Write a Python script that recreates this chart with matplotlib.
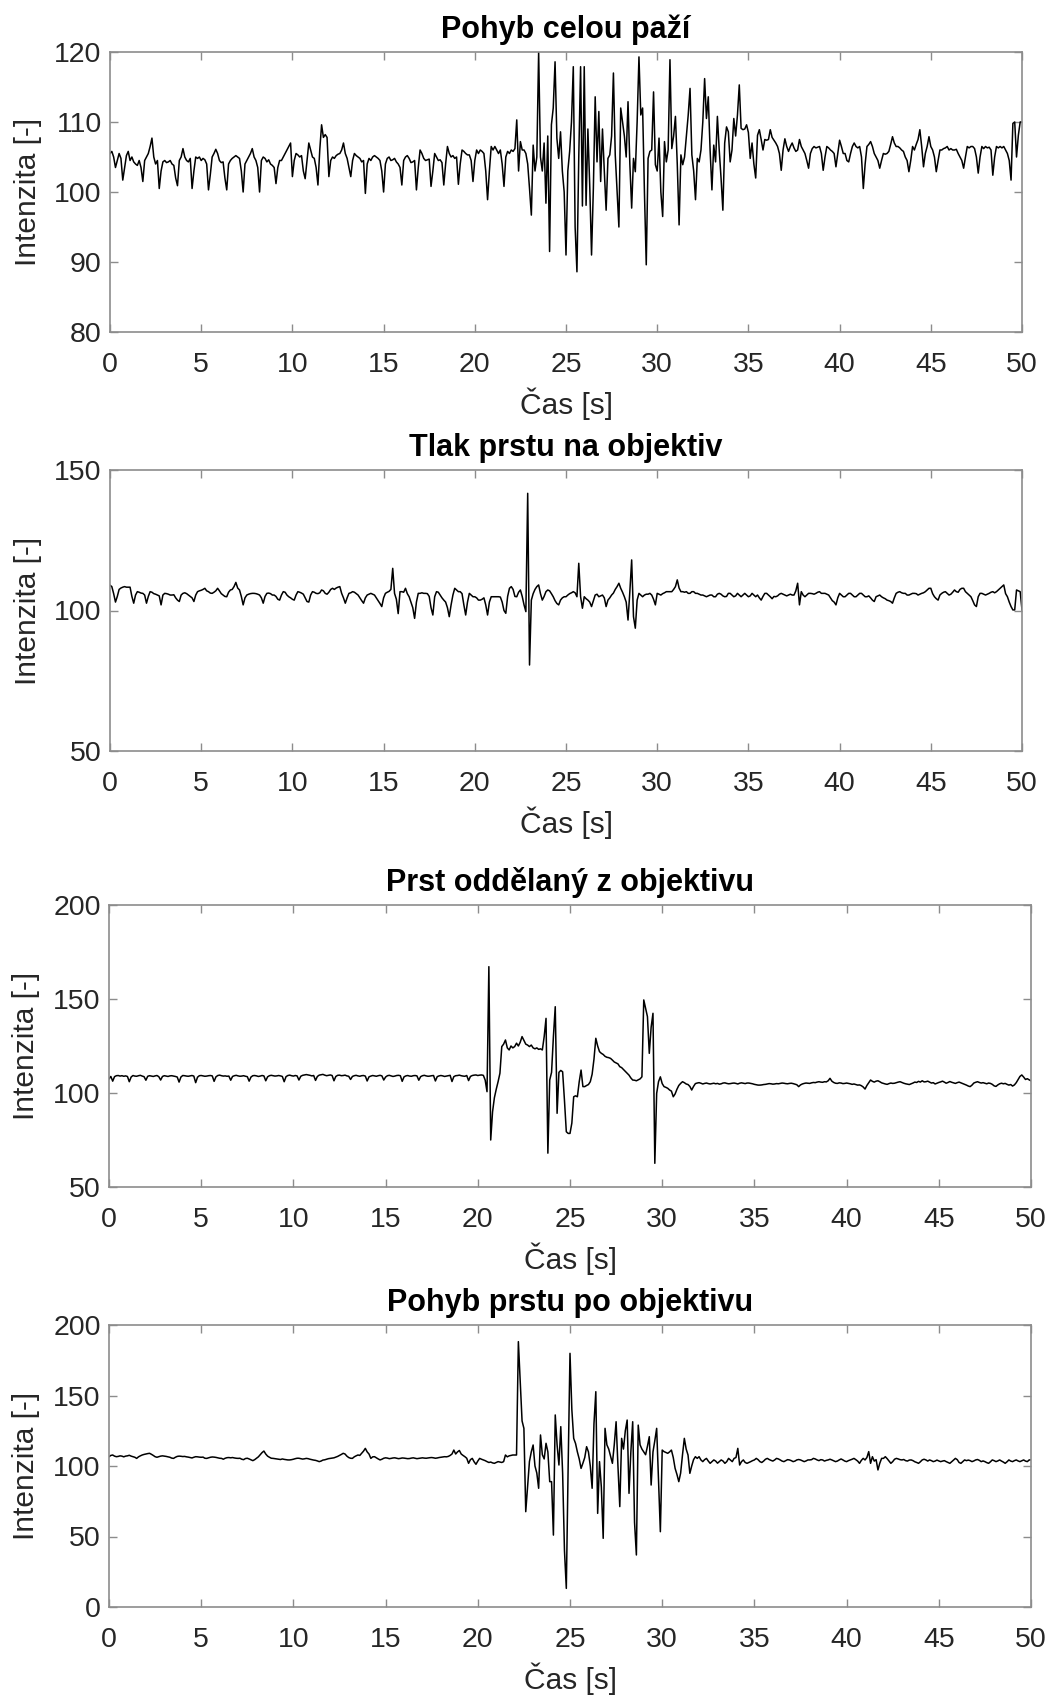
import numpy as np
import matplotlib
matplotlib.use('Agg')
import matplotlib.pyplot as plt

plt.rcParams['font.family'] = ['Liberation Sans', 'DejaVu Sans']

# ---- data: intensity sampled every 0.1 s, one row per second ----
dt = 0.1

paze = [
    105.5, 105.8, 105, 103.5, 104.5, 105.5, 104.8, 101.7, 103.5, 105.2,
    105.8, 104.5, 105, 104.3, 104, 103.8, 104.5, 103.5, 101.5, 104.5,
    105, 105.5, 106.5, 107.7, 105, 104, 104.5, 100.5, 103, 104.3,
    104.5, 104.2, 104.3, 104.5, 104, 103.8, 102, 100.9, 104.5, 105,
    106.2, 105, 104.5, 104.3, 104.8, 100.5, 103, 105, 104.8, 105,
    104.5, 104.8, 104.6, 104, 100.3, 102.5, 105, 105.5, 106.1, 105.5,
    104.5, 104.2, 104.3, 102, 100.3, 104, 104.5, 104.8, 105, 105.2,
    105, 104.8, 103, 100, 104, 104.5, 105, 105.5, 106.2, 105,
    104.5, 103.5, 100, 104.5, 105, 104.8, 104.3, 104.6, 104, 103.8,
    103.5, 101.2, 103.5, 104.5, 104.5, 105, 105.5, 106, 106.5, 107,
    102.2, 104.5, 105.5, 105.3, 105, 105.2, 103, 101.9, 104.5, 107,
    106, 105, 104.8, 103.5, 101, 106, 109.6, 107.8, 108.2, 107.8,
    102.2, 104.5, 105, 104.8, 105.2, 105.4, 105.5, 106, 107, 105.5,
    104.8, 103.5, 102.2, 104.5, 105.5, 105.2, 105, 104.8, 104.3, 104.5,
    99.8, 104, 104.8, 104.5, 105, 105.2, 105, 104.8, 104.5, 103,
    100, 104, 104.8, 105, 104.5, 104.6, 104.8, 104.3, 104, 103.5,
    101, 104.5, 105, 105.2, 104.8, 104.2, 104.3, 104.5, 100.3, 103.5,
    106, 105.5, 104.8, 104.5, 104.6, 104.7, 100.8, 103, 105.5, 105,
    104.5, 104.6, 104.2, 101, 104, 106.5, 105.5, 105, 105.2, 104.8,
    105, 101.1, 104, 106, 105.8, 105.5, 105.3, 105.3, 104.5, 101.5,
    104.5, 106, 105.5, 106, 105.8, 105.5, 103, 98.9, 103, 106.5,
    106, 106.5, 106, 105.5, 106, 104, 100.8, 105, 105.8, 105.5,
    106, 105.8, 106.2, 110.3, 103, 107.2, 106, 106, 105.5, 104,
    100.5, 96.7, 106.7, 103, 105, 120, 105, 103, 107, 98.4,
    108, 91.5, 109.6, 112, 118.6, 107.7, 104.8, 108.6, 103, 100,
    91, 103, 105.8, 110, 117.9, 95, 88.6, 105, 117.9, 98,
    117.9, 98.1, 109, 101, 91, 100.5, 113.6, 104.3, 111.5, 101.5,
    109, 103, 97.4, 104.8, 105.3, 108, 117, 105.3, 100, 95,
    112, 110, 108, 105, 112.9, 104, 97.7, 104.8, 102.9, 110,
    119.3, 111, 112, 100, 89.6, 104.8, 105.8, 106, 114.3, 103.9,
    103, 107.7, 100, 96.5, 107.2, 104.3, 106, 118.9, 106.2, 108,
    110.8, 104, 95.3, 105.3, 103.9, 105, 108, 111, 114.8, 105.3,
    103, 98.9, 104.8, 104.3, 106, 110, 116.2, 110.5, 113.6, 106,
    100.3, 106.7, 104.3, 110.8, 106, 102, 97.4, 107, 109.3, 108.6,
    104.3, 106, 110.5, 108, 111, 115.3, 109.1, 108.9, 109, 109.6,
    108.5, 104.8, 107, 104, 102, 108.1, 108.9, 107.5, 106, 107.5,
    107.4, 107.5, 108.9, 107.8, 107.4, 107, 106.5, 105.5, 103.1, 106,
    107.6, 106.5, 105.8, 106.5, 107, 106.3, 105.8, 106, 107.5, 106.5,
    106, 105.5, 104.5, 103.4, 105.5, 106.2, 106.5, 106.3, 106.4, 106.5,
    105.5, 103.1, 105, 106.5, 106.3, 106, 105.8, 105.5, 103.6, 105.5,
    107.4, 106.5, 105.5, 105.5, 104.5, 104.3, 105.5, 106.5, 107, 106.5,
    106.3, 106.5, 105, 100.5, 104, 106.5, 106.8, 107.2, 106.5, 105.5,
    105, 104.5, 103.4, 104.5, 105.5, 105.4, 105.5, 105.8, 106.8, 107.9,
    107, 106.5, 106.5, 106.3, 106, 105.8, 105, 104.5, 102.9, 104.5,
    106.5, 106, 106.8, 107.5, 108.9, 106.5, 103.6, 105.5, 106.5, 107.9,
    106.5, 106, 105, 102.9, 104.5, 106, 106, 106.2, 106.3, 106.5,
    106, 106.2, 106, 106, 106.1, 105.5, 105, 104.5, 103.4, 105,
    106.5, 106.3, 106.5, 106.5, 106.2, 105, 102.7, 105, 106.5, 106.2,
    106.5, 106.3, 106.4, 106, 102.4, 105, 106.5, 106.3, 106.5, 106.3,
    106.5, 106, 105.5, 104.5, 101.7, 109.8, 110, 105, 108.1, 110,
    110,
]

tlak = [
    109, 108.5, 106, 103, 105, 107.5, 108, 108.3, 108.5, 108.3,
    108.3, 108.3, 105, 102.6, 105.5, 106.7, 106.5, 106.2, 106.1, 105.5,
    102.6, 105, 106.7, 106.5, 106, 105.8, 105.5, 105.2, 102, 105.5,
    106.1, 106, 105.8, 105.5, 105.5, 105.6, 104.5, 103.7, 103.2, 105.5,
    106.1, 106.3, 106, 105.5, 105, 104.5, 103.2, 105.5, 106.7, 107,
    107.2, 107.5, 107.9, 107, 106.7, 106.2, 106.1, 106.5, 107, 107.9,
    107, 106, 105.5, 105, 104.9, 106.5, 107.3, 107.5, 108.5, 110,
    108, 107.3, 105, 102, 104.5, 105.5, 105.8, 106, 106.1, 106.1,
    106, 105.8, 105.5, 104.5, 102.6, 105, 106.1, 106.2, 106, 105.5,
    105.5, 105, 104, 103.7, 105.5, 106.7, 106.5, 105.5, 104.9, 104.5,
    104, 103.7, 105.5, 106.7, 106.5, 106.2, 105.8, 104.5, 103.2, 103,
    105.5, 106.7, 106.5, 106.1, 106, 106.3, 107.3, 107, 106.1, 105.8,
    106.5, 107.5, 107.9, 107.5, 108, 108.3, 108.5, 106.1, 104.5, 102.6,
    104.5, 106.1, 106.3, 106.7, 106.5, 106, 105.5, 104.5, 103.5, 102.6,
    104.5, 105.5, 105.8, 106.1, 105.8, 105.5, 104.5, 103.5, 102.5, 101.4,
    104.5, 106.1, 106.5, 106.8, 107.5, 115, 106.1, 104, 98.9, 106.7,
    106.7, 106.5, 107.9, 106, 104.9, 103, 101, 97.2, 103, 106.1,
    106.1, 106.3, 106.1, 106.1, 106, 105, 101, 98.4, 104.9, 106.7,
    106.5, 105.5, 104.5, 103.7, 103, 101, 97.8, 102, 105.5, 107.9,
    107.3, 106.7, 106.7, 106, 102, 98.4, 103, 106.1, 105.5, 104.9,
    104.9, 104.5, 103.7, 103.7, 104, 104.5, 102, 98.4, 103, 104.9,
    104.9, 104.9, 104.9, 104.9, 104.8, 103, 100, 99, 105, 107.9,
    108.5, 107.5, 105, 104.9, 106.5, 107.3, 105, 102, 99.6, 141.7,
    80.6, 103.7, 106, 107.5, 108.5, 109.1, 106, 103.7, 105, 106.7,
    107.3, 107, 106, 104.9, 103.5, 102.5, 102, 103.7, 104.5, 104.9,
    104.9, 105.5, 106, 106.3, 106.7, 106.3, 104.9, 116.8, 104.9, 100.8,
    104.9, 104.2, 103.7, 103, 101.4, 103.5, 105.5, 105.8, 104.9, 105.2,
    105.5, 104.5, 101.4, 103.7, 104.5, 105.5, 106.2, 107.5, 108.5, 109.7,
    107.9, 106.5, 104.9, 103, 96.6, 106.7, 118, 97.8, 93.7, 103.7,
    106.1, 105.5, 104.9, 105.5, 105.8, 105.8, 106.1, 105.5, 104, 102,
    106.1, 105.8, 105.5, 106, 106.3, 106.7, 106.7, 106.7, 106.7, 107.5,
    108.5, 110.9, 108, 106.7, 106.7, 106.5, 106.7, 106.1, 106.1, 106.7,
    106.7, 106.1, 106.1, 105.8, 105.5, 105.5, 105.2, 104.9, 105.2, 105.5,
    105.5, 104.9, 104.9, 105.8, 106.1, 105.8, 105.2, 104.9, 105, 106.1,
    106.1, 105.5, 104.9, 105.2, 106.1, 105.5, 104.9, 105.5, 106.1, 105.5,
    104.9, 105.2, 106.1, 105.5, 104.9, 105.5, 104.5, 103.7, 105, 106.1,
    106.1, 105.5, 104.9, 104.2, 105, 104.9, 105.2, 105.8, 106.1, 105.8,
    105.5, 105.2, 105.5, 105.8, 105.5, 105.5, 107, 109.7, 102, 106.7,
    105.5, 104.9, 105.5, 106.1, 106.1, 106, 105.8, 106.1, 106.5, 106.7,
    106.1, 106.1, 106.1, 105.8, 105.5, 104.5, 103.5, 103, 102, 104.5,
    106.1, 105.5, 104.9, 104.9, 105.5, 106.1, 106.1, 105.5, 104.9, 104.9,
    105.5, 106.1, 106.1, 105.5, 104.9, 104.9, 105.2, 104.5, 103.7, 103.2,
    104.9, 105.2, 105.5, 104.9, 104.5, 104.2, 103.7, 103.5, 103.2, 102.6,
    104.5, 106.1, 106.5, 106.7, 106.3, 106.1, 106.1, 105.5, 105.5, 105.8,
    106.1, 106.1, 106, 105.5, 105.8, 106.1, 106.3, 106.7, 107.3, 107.9,
    107.9, 106, 104.9, 104.2, 103.7, 105.5, 106.1, 106.5, 106.7, 106.1,
    105.5, 105.8, 106.5, 107.3, 106.7, 106.5, 107.5, 107.9, 107.9, 106.7,
    106.1, 105.5, 104.9, 103.5, 102, 101.4, 104.9, 106.1, 106.1, 105.8,
    105.5, 105.8, 106.1, 106.5, 106.7, 106.3, 106.7, 107.3, 107.9, 108.5,
    109.1, 106, 104.9, 103, 101.4, 100.2, 100.2, 107.3, 107, 106.7,
    100.2,
]

oddelany = [
    107.5, 108.8, 106.3, 108.7, 109.2, 109.3, 109, 109.2, 108.9, 109.1,
    108.8, 106, 108.5, 109.3, 109, 108.9, 109.2, 109.4, 109, 108.7,
    106.8, 108.9, 109.2, 109, 108.8, 109.1, 109.3, 108.7, 106.9, 108.8,
    109.2, 109, 108.8, 109.1, 109.2, 109, 108.8, 108.5, 105.8, 108.5,
    109.3, 109.2, 109, 108.9, 109.1, 109.3, 109, 105.5, 108.4, 109.2,
    109.3, 109.1, 108.9, 109, 109.2, 109.3, 109.1, 106.2, 108.6, 109.3,
    109.5, 109.2, 109, 109.1, 108.9, 109, 106.8, 108.8, 109.2, 109.4,
    109.1, 108.9, 109, 109.2, 108.9, 108.7, 106.3, 108.5, 109.2, 109.3,
    109.1, 108.8, 109, 109.3, 109.1, 106.5, 108.6, 109.2, 109.4, 109.2,
    109, 109.1, 109.3, 109.1, 108.8, 106, 108.7, 109.3, 109.5, 109.2,
    109, 109.3, 109.1, 106.9, 108.9, 109.4, 109.6, 109.8, 109.6, 109.4,
    109.1, 109.3, 106.7, 108.8, 109.5, 109.7, 109.9, 109.5, 109.2, 109.4,
    109.6, 109.3, 106.5, 108.8, 109.4, 109.5, 109.2, 109.3, 109.5, 109.1,
    108.9, 107.2, 108.8, 109.2, 109.4, 109.1, 108.9, 109.2, 109.3, 109,
    106.4, 108.6, 109, 109.3, 109.1, 108.9, 109.2, 109.4, 109.1, 106.9,
    108.5, 109.2, 109.4, 109.1, 108.8, 109, 109.3, 109.4, 109.2, 106.2,
    108.6, 109.1, 109.3, 109, 108.9, 109.2, 109.3, 109.1, 106.8, 108.7,
    109.2, 109.4, 109.1, 108.9, 109, 109.2, 109.3, 106.4, 108.7, 109.1,
    109.3, 109.1, 108.8, 109, 109.2, 109.4, 106.1, 108.7, 109.2, 109.3,
    109.5, 109.2, 109, 108.9, 109.3, 106.6, 108.8, 109.3, 109.5, 109.6,
    109.3, 109.5, 109.6, 109.4, 106.9, 100.7, 167.2, 75, 90, 97.5,
    102, 106, 110.5, 124.7, 126, 128.2, 124, 122.9, 125, 124,
    124.7, 126.5, 125, 127, 130, 128, 126, 125.5, 124.7, 125.5,
    124, 123.5, 124, 123.2, 123.5, 122.9, 130, 139.7, 68, 106.9,
    111, 130, 145.9, 89.2, 111, 112, 111.3, 96, 79.4, 78.5,
    78.5, 84, 98, 98.5, 98, 106, 112.2, 103.4, 103.4, 104,
    104.5, 106, 110, 118, 129.1, 125, 122, 121.1, 120.5, 119.5,
    119, 118.8, 118.4, 117.5, 116.5, 116, 115.5, 114, 113.5, 112.5,
    111.5, 110.5, 109.5, 108, 106.9, 106.8, 106.5, 107, 107.5, 108.6,
    149.5, 145, 140.6, 121.1, 135, 142.4, 62.6, 99.8, 106, 108.6,
    105, 103.4, 103, 102.5, 101.6, 101, 98, 99.5, 102, 104,
    105.1, 106, 105.5, 104.8, 104.5, 103.5, 101.6, 103.5, 105, 105.3,
    105.5, 105.2, 104.8, 105.1, 105.3, 105, 104.8, 105, 105.2, 104.9,
    105.1, 104.7, 104.9, 105.3, 105.4, 105.1, 104.9, 105, 105.2, 105.3,
    105.1, 104.8, 105.2, 105.4, 105.2, 105, 105.3, 105.3, 105.1, 104.9,
    104.6, 104.4, 104.2, 104.2, 104.3, 104.5, 104.6, 104.8, 105, 104.9,
    104.7, 104.8, 105, 104.9, 105.1, 105.3, 105.2, 105, 104.9, 105.1,
    105.2, 105, 104.7, 104.4, 103.4, 104.3, 104.8, 105.1, 105.3, 105.2,
    105.1, 105.4, 105.6, 105.5, 105.8, 106, 105.8, 105.7, 106, 105.9,
    106.5, 107.8, 106.3, 105.6, 105.2, 105.1, 105.4, 105.3, 105, 105.1,
    105.3, 105.1, 104.9, 104.6, 104.8, 104.5, 104.2, 104.3, 103.9, 103.2,
    102.1, 104, 105.5, 106.9, 106.2, 105.8, 106.3, 106.5, 106, 105.4,
    105.1, 104.8, 104.6, 105, 105.3, 105.1, 105.2, 105.5, 105.8, 106,
    105.6, 105.2, 104.9, 104.7, 104.5, 104.9, 105.3, 105.8, 105.6, 106.2,
    105.8, 106.5, 105.9, 106, 106.3, 105.8, 105.3, 105.5, 104.8, 105.2,
    105.6, 105.9, 106.3, 105.8, 105.2, 105.6, 106.1, 105.7, 105.4, 105.1,
    105.5, 105.8, 105.4, 105, 104.6, 104.2, 103.7, 103.4, 104.2, 105.3,
    105.7, 106, 105.6, 105.3, 105.5, 105.2, 104.9, 105.3, 105.1, 104.6,
    103.8, 103.5, 104.3, 104.9, 105.2, 104.9, 105.1, 104.6, 104.2, 104.5,
    103.7, 104.3, 105.5, 107.2, 108.8, 109.6, 108.5, 107.2, 107.6, 107,
    106.5,
]

po_objektivu = [
    106.6, 107.5, 107.8, 107, 106.6, 106.8, 107.2, 107, 106.5, 107,
    107.2, 107.6, 107, 106.6, 106.2, 105.4, 106.5, 107.2, 107.8, 108.2,
    108.5, 108.8, 109, 108.3, 107.5, 106.6, 106.2, 106.6, 107, 107.2,
    107, 106.8, 106.5, 106.2, 105.6, 105.4, 106.2, 106.8, 107, 106.9,
    106.7, 106.8, 106.5, 106.3, 106, 105.7, 106.2, 106.6, 106.5, 106.3,
    106.2, 106.3, 105.5, 105.4, 105.8, 106.2, 106.4, 106.3, 106.1, 105.8,
    105.5, 105.4, 104.8, 105.5, 105.9, 106, 105.8, 106, 105.7, 105.5,
    105.4, 105.5, 104.8, 104.5, 105.3, 105.5, 105, 104.4, 103.8, 104.5,
    105.5, 106.5, 108, 109.5, 110.6, 108.5, 107, 106.2, 105.5, 105.4,
    105.2, 105, 104.8, 104.6, 105, 104.7, 104.5, 104.3, 104.3, 104.5,
    104.8, 105.2, 105.5, 105.5, 105.2, 104.9, 105.1, 105.4, 105.2, 104.8,
    104.5, 104.2, 104, 103.6, 103.1, 103.5, 104.2, 104.4, 104.8, 105.2,
    105.4, 105.6, 105.8, 106.3, 106.8, 107.5, 108.2, 109, 108.5, 107,
    106, 105.5, 105.4, 106.5, 107.2, 107.8, 107.5, 109, 110.5, 112.5,
    110, 108.5, 105.4, 106.5, 106.6, 105.8, 105, 104.3, 104.8, 105.5,
    105.8, 105.6, 105.2, 105.4, 105.7, 105.8, 105.5, 105.2, 105.4, 105.7,
    105.6, 105.4, 105.2, 105.3, 105.6, 105.8, 105.5, 105.2, 105.4, 105.6,
    105.8, 105.6, 105.5, 105.7, 105.9, 106, 105.8, 105.5, 105.7, 106,
    106.2, 106.4, 106.6, 106.5, 106.8, 107.5, 108.5, 111.3, 108.5, 110,
    111, 108.5, 107.5, 106.6, 105.5, 101.9, 104.5, 105.4, 103, 101.2,
    103.5, 105.4, 104.8, 104.3, 103.8, 103.1, 102.5, 102.8, 102.2, 101.9,
    102.5, 103.1, 102.8, 102.5, 103.1, 107.8, 106.5, 107.2, 107.5, 107.8,
    107.8, 107.8, 188.2, 160, 132, 126.7, 67.6, 85, 103.1, 110,
    114.9, 100, 95, 84.2, 122, 108, 105, 116.1, 110, 88.9,
    88.9, 51, 136.2, 115, 100.7, 127.9, 95, 40, 13.2, 100,
    179.9, 140, 119.6, 116, 110, 105, 98.3, 102, 106, 113.7,
    110, 100, 84.2, 130, 152.7, 66.4, 103.1, 85, 48.7, 126.7,
    115, 112, 107, 101.9, 115, 131.4, 100, 71.2, 119.6, 112,
    125, 132.6, 80.6, 110, 131.4, 60, 36.9, 129, 115, 112,
    110, 108, 114, 120.8, 86.5, 110, 118, 126.7, 90, 53.4,
    111.3, 110.2, 109.6, 109, 110, 111.3, 106, 98.3, 94, 88.9,
    95, 107.8, 119.6, 112, 107.8, 94.8, 100, 104.5, 106.6, 105.4,
    106.6, 104.3, 103.1, 104.5, 105.4, 103.5, 101.9, 103.1, 104.3, 103.5,
    102, 103.1, 104.3, 103.5, 101.9, 103.1, 105.4, 104.3, 103.1, 105.4,
    106, 112.5, 100.7, 103.1, 104.3, 102.5, 101.9, 102.5, 103.1, 103.8,
    104.3, 105.4, 104.5, 103.1, 102.5, 103.5, 104.8, 105.4, 104.6, 104,
    103.5, 104.3, 105.4, 105, 104.3, 103.5, 103.1, 103.8, 104.5, 104.3,
    103.8, 103.1, 103.5, 104.3, 104.6, 104.3, 103.7, 103.1, 103.6, 104.3,
    104.3, 104.5, 105.4, 105, 104.3, 103.8, 104.5, 104.3, 103.5, 104,
    104.3, 104.8, 104.3, 103.7, 103.1, 103.5, 104.3, 105, 104.3, 103.5,
    103.1, 103.8, 104.3, 104.8, 105.4, 104.5, 103.5, 101.9, 104, 105.4,
    104.3, 106, 110.2, 101.9, 106.6, 103.5, 104.5, 97.2, 102, 105.4,
    105.4, 106.6, 105.2, 103.5, 101.9, 103.1, 104.8, 105.4, 105, 104.5,
    104.3, 104.6, 103.8, 103.5, 104.2, 104.3, 103.8, 103, 102.5, 101.9,
    103, 104.3, 104.8, 104.3, 103.5, 104.3, 103.8, 103.1, 103.5, 104.2,
    103.6, 103.1, 103.5, 103.8, 103.1, 102.5, 101.9, 103, 104.2, 105.4,
    104.5, 102.5, 101.9, 103.1, 104.3, 103.8, 104.2, 103.8, 103.1, 103.6,
    104.3, 104.6, 104, 103.1, 103.6, 103.1, 102.4, 101.9, 103, 104.3,
    103.8, 103.1, 103.6, 104.3, 103.5, 102.8, 101.9, 103, 104.3, 103.5,
    103.1, 103.8, 104.3, 103.6, 103.1, 103.7, 104.3, 103.5, 103.1, 104.3,
    104.3,
]

titles = ['Pohyb celou paží', 'Tlak prstu na objektiv',
          'Prst oddělaný z objektivu', 'Pohyb prstu po objektivu']
ylims = [(80, 120), (50, 150), (50, 200), (0, 200)]
yticks = [[80, 90, 100, 110, 120], [50, 100, 150],
          [50, 100, 150, 200], [0, 50, 100, 150, 200]]
xticks = list(range(0, 51, 5))

signals = [paze, tlak, oddelany, po_objektivu]
t = np.arange(len(paze)) * dt

# axes boxes in pixels (left, top, right, bottom)
W, H = 1049.0, 1695.0
boxes = [
    (110, 52, 1022, 332),
    (110, 470, 1022, 751),
    (109, 905, 1031, 1187),
    (109, 1325, 1031, 1607),
]

fig = plt.figure(figsize=(W / 100, H / 100), dpi=100)
frame_col = '#8c8c8c'
text_col = '#262626'

for i in range(4):
    x0, y0, x1, y1 = boxes[i]
    ax = fig.add_axes([x0 / W, 1 - y1 / H, (x1 - x0) / W, (y1 - y0) / H])
    ax.plot(t, signals[i], color='black', lw=1.1)
    ax.set_xlim(0, 50)
    ax.set_ylim(*ylims[i])
    ax.set_xticks(xticks)
    ax.set_yticks(yticks[i])
    ax.tick_params(direction='in', length=6, width=1, color=frame_col,
                   labelsize=20.5, labelcolor=text_col, top=True, right=True)
    ax.tick_params(axis='x', pad=14.5)
    ax.tick_params(axis='y', pad=6)
    for s in ax.spines.values():
        s.set_color(frame_col)
        s.set_linewidth(1.2)
    ax.set_title(titles[i], fontsize=22, fontweight='bold', color='black', pad=10)
    ax.set_xlabel('Čas [s]', fontsize=21.5, color=text_col)
    ax.set_ylabel('Intenzita [-]', fontsize=21.5, color=text_col)
    ax.xaxis.set_label_coords(0.5, -0.197)
    ax.yaxis.set_label_coords(-0.075, 0.5)

fig.savefig('out.png', dpi=100, facecolor='white')
